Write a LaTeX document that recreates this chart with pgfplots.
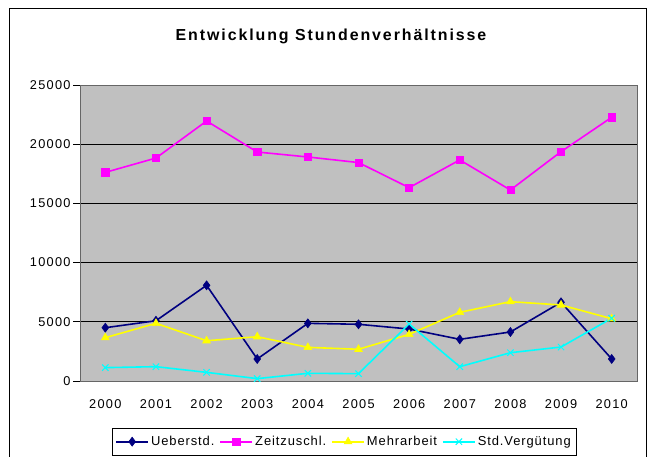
\documentclass[border=0pt]{standalone}
\usepackage{pgfplots}
\pgfplotsset{compat=1.18}
\usepackage{fontspec}
\setmainfont[LetterSpace=10]{Liberation Sans}
\newfontfamily\titlefont[LetterSpace=12]{Liberation Sans}
\newfontfamily\legfont[LetterSpace=7]{Liberation Sans}
\definecolor{silverbg}{RGB}{192,192,192}
\definecolor{navyc}{RGB}{0,0,128}
\definecolor{magc}{RGB}{255,0,255}
\definecolor{yelc}{RGB}{255,255,0}
\definecolor{cyac}{RGB}{0,255,255}
\begin{document}
\begin{tikzpicture}
\path[use as bounding box] (0,0) rectangle (651bp,457bp);
\draw[black, line width=0.8bp] (9bp,-2bp) -- (9bp,449bp) -- (646bp,449bp) -- (646bp,-2bp);
\node[font=\titlefont\fontsize{16}{19}\selectfont\bfseries] at (331bp,421bp) {Entwicklung Stundenverhältnisse};
\begin{axis}[
  scale only axis, width=557bp, height=296bp,
  at={(80bp,76bp)}, anchor=south west,
  xmin=-0.5, xmax=10.5, ymin=0, ymax=25000,
  scaled y ticks=false,
  axis background/.style={fill=silverbg},
  axis line style={draw=gray!80!black, line width=0.6bp},
  ytick={0,5000,...,25000},
  ymajorgrids, grid style={black, line width=0.6bp},
  xtick={0,...,10},
  xticklabels={2000,2001,2002,2003,2004,2005,2006,2007,2008,2009,2010},
  major x tick style={draw=none},
  extra x ticks={-0.5,0.5,...,10.5},
  extra x tick labels={},
  extra x tick style={grid=none, major tick length=5bp, tick style={black, line width=0.6bp}},
  major y tick style={black, line width=0.6bp},
  major tick length=7bp,
  tick align=outside, xtick pos=bottom, ytick pos=left,
  tick label style={font=\fontsize{12.8}{14}\selectfont},
  /pgf/number format/1000 sep={},
  /pgf/number format/assume math mode=true,
  x tick label style={yshift=-8bp},
  y tick label style={xshift=1bp},
  legend columns=4,
  legend style={at={(0.474,-0.205)}, anchor=center, draw=black, fill=white,
    font=\legfont\fontsize{13}{14}\selectfont, inner xsep=3bp, inner ysep=6bp,
    /tikz/every even column/.append style={column sep=3bp}},
  legend image code/.code={%
    \draw[line width=1.8bp, mark=none] (0bp,0bp) -- (32bp,0bp);
    \draw[only marks, mark repeat=2, mark phase=2] plot coordinates {(0bp,0bp)(16bp,0bp)(32bp,0bp)};},
  every axis plot/.append style={line width=1.6bp},
]
\addplot[color=navyc, mark=diamond*, mark size=4.5bp, mark options={fill=navyc, line width=0.6bp}] coordinates {
(0,4500)(1,5090)(2,8080)(3,1860)(4,4870)(5,4790)(6,4390)(7,3520)(8,4140)(9,6650)(10,1860)};
\addlegendentry{Ueberstd.}
\addplot[color=magc, mark=square*, mark size=3.6bp, mark options={fill=magc, line width=0.6bp}] coordinates {
(0,17620)(1,18830)(2,21960)(3,19340)(4,18920)(5,18450)(6,16330)(7,18670)(8,16130)(9,19370)(10,22270)};
\addlegendentry{Zeitzuschl.}
\addplot[color=yelc, mark=triangle*, mark size=4.5bp, mark options={fill=yelc, line width=0.6bp}] coordinates {
(0,3660)(1,4870)(2,3400)(3,3740)(4,2840)(5,2680)(6,3940)(7,5800)(8,6700)(9,6420)(10,5260)};
\addlegendentry{Mehrarbeit}
\addplot[color=cyac, mark=x, mark size=4.5bp, mark options={line width=1bp}] coordinates {
(0,1130)(1,1210)(2,730)(3,200)(4,650)(5,620)(6,4810)(7,1210)(8,2390)(9,2870)(10,5300)};
\addlegendentry{Std.Vergütung}
\end{axis}
\end{tikzpicture}
\end{document}
